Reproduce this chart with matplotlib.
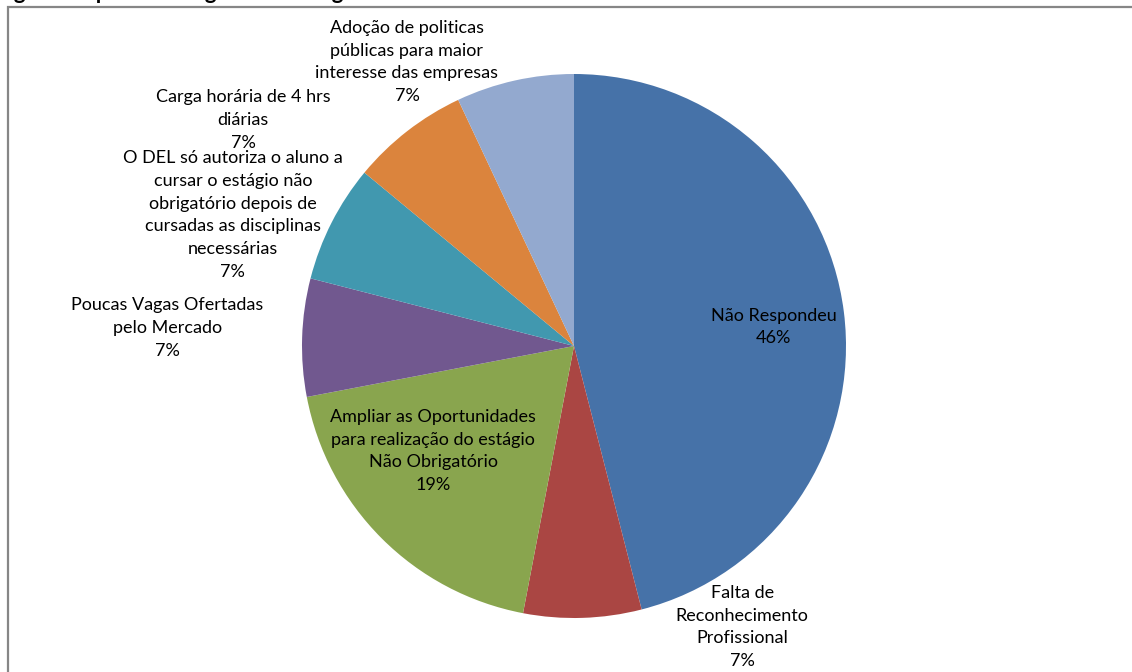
import matplotlib
matplotlib.use("Agg")
import matplotlib.pyplot as plt
from matplotlib.patches import Rectangle

labels = [
    "Não Respondeu",
    "Falta de\nReconhecimento\nProfissional",
    "Ampliar as Oportunidades\npara realização do estágio\nNão Obrigatório",
    "Poucas Vagas Ofertadas\npelo Mercado",
    "O DEL só autoriza o aluno a\ncursar o estágio não\nobrigatório depois de\ncursadas as disciplinas\nnecessárias",
    "Carga horária de 4 hrs\ndiárias",
    "Adoção de politicas\npúblicas para maior\ninteresse das empresas",
]
values = [46, 7, 19, 7, 7, 7, 7]
colors = ["#4672A8", "#AA4643", "#89A54E", "#71588F", "#4198AF", "#DB843D", "#93A9CF"]

# label anchor points, pie radius = 1
label_pos = [(0.735, 0.07), (0.618, -1.033), (-0.518, -0.386), (-1.496, 0.066),
             (-1.254, 0.482), (-1.217, 0.831), (-0.614, 1.044)]

plt.rcParams['font.family'] = ['Lato', 'DejaVu Sans']

fig = plt.figure(figsize=(11.32, 6.72), dpi=100)
ax = fig.add_axes([0, 0, 1, 1])

ax.pie(values, colors=colors, startangle=90, counterclock=False, radius=1,
       wedgeprops=dict(linewidth=0))

for lab, v, (x, y) in zip(labels, values, label_pos):
    ax.text(x, y, f"{lab}\n{v}%", ha='center', va='center', fontsize=13,
            linespacing=1.52, color='black')

ax.set_xlim(-574 / 272, (1132 - 574) / 272)
ax.set_ylim(-(672 - 346) / 272, 346 / 272)
ax.set_aspect('auto')
ax.axis('off')

# chart border (cut off at right and bottom)
fig.patches.append(Rectangle((8 / 1132, -0.05), 1.2, 1.05 - 7 / 672, transform=fig.transFigure,
                             fill=False, edgecolor='#868686', linewidth=1.6))

fig.text(-0.01, 1 + 1 / 672, "Sugestões para o Estágio Não Obrigatório dos Estudantes",
         ha='left', va='baseline', fontsize=16, fontweight='bold')

fig.savefig("out.png", dpi=100, facecolor='white')
